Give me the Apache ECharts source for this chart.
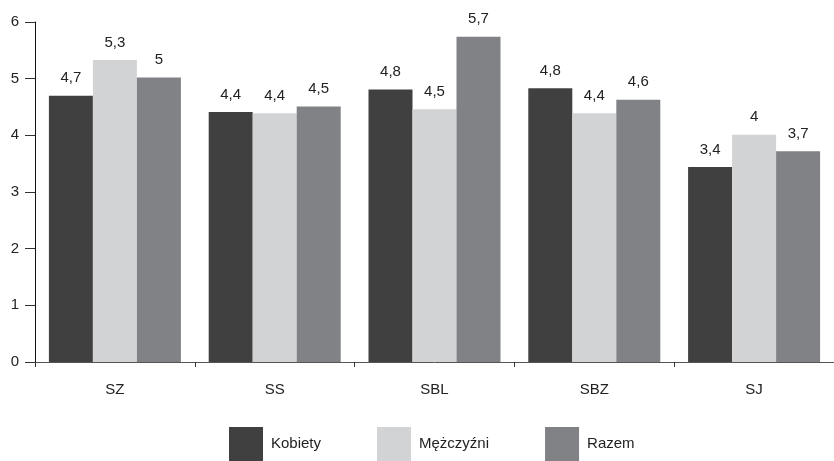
<!DOCTYPE html>
<html>
<head>
<meta charset="utf-8">
<script src="https://cdn.jsdelivr.net/npm/echarts@6/dist/echarts.min.js"></script>
<style>
  body { margin: 0; background: #fff; }
  #chart { width: 834px; height: 461px; }
</style>
</head>
<body>
<div id="chart"></div>
<script>
var categories = ['SZ', 'SS', 'SBL', 'SBZ', 'SJ'];
var kobiety = [4.70, 4.41, 4.81, 4.83, 3.44];
var mezczyzni = [5.33, 4.39, 4.46, 4.39, 4.01];
var razem = [5.02, 4.51, 5.74, 4.63, 3.72];
var yTicks = [0, 1, 2, 3, 4, 5, 6];

var font = 'Liberation Sans';

function fmt(p) {
  var v = Math.round(p.value * 10) / 10;
  return String(v).replace('.', ',');
}

function bar(name, data, color) {
  return {
    name: name,
    type: 'bar',
    data: data,
    barWidth: 44,
    barGap: '0%',
    itemStyle: { color: color },
    label: {
      show: true,
      position: 'top',
      distance: 10,
      formatter: fmt,
      color: '#222',
      fontFamily: font,
      fontSize: 15
    }
  };
}

var chart = echarts.init(document.getElementById('chart'));

var option = {
  animation: false,
  backgroundColor: '#fff',
  grid: { left: 35, right: 0, top: 22, bottom: 99 },
  legend: {
    bottom: -5,
    left: 224,
    itemWidth: 34,
    itemHeight: 34,
    itemGap: 56,
    icon: 'rect',
    textStyle: { fontFamily: font, fontSize: 15, color: '#222', padding: [0, 0, 0, 3] },
    data: ['Kobiety', 'Mężczyźni', 'Razem']
  },
  xAxis: {
    type: 'category',
    data: categories,
    axisLine: { lineStyle: { color: '#555', width: 1 } },
    axisTick: { show: true, length: 5, lineStyle: { color: '#333' } },
    axisLabel: { fontFamily: font, fontSize: 15, color: '#222', margin: 20 }
  },
  yAxis: {
    type: 'value',
    min: yTicks[0],
    max: yTicks[yTicks.length - 1],
    interval: 1,
    axisLine: { show: true, lineStyle: { color: '#111', width: 1 } },
    axisTick: { show: true, length: 10, lineStyle: { color: '#333' } },
    splitLine: { show: false },
    axisLabel: { fontFamily: font, fontSize: 15, color: '#222', margin: 16 }
  },
  series: [
    bar('Kobiety', kobiety, '#404040'),
    bar('Mężczyźni', mezczyzni, '#d2d3d5'),
    bar('Razem', razem, '#808285')
  ]
};

chart.setOption(option);
</script>
</body>
</html>
